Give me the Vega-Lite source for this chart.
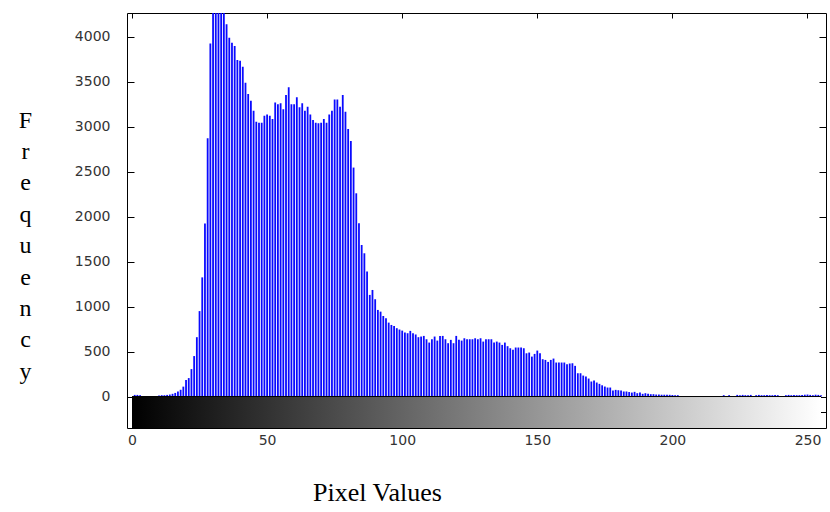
{
  "$schema": "https://vega.github.io/schema/vega-lite/v6.json",
  "width": 699,
  "height": 415,
  "autosize": {"type": "none"},
  "padding": {"left": 127, "top": 13, "right": 4, "bottom": 84},
  "background": "white",
  "config": {
    "view": {"stroke": "black", "strokeWidth": 1},
    "axis": {"domain": false, "grid": false, "labelFont": "DejaVu Sans", "labelFontSize": 14, "labelColor": "#333", "tickColor": "black", "tickWidth": 1, "format": "d"}
  },
  "datasets": {
    "hist": [
      {"v":0,"c":0},{"v":1,"c":18},{"v":2,"c":18},{"v":3,"c":15},{"v":4,"c":0},{"v":5,"c":0},{"v":6,"c":0},{"v":7,"c":0},{"v":8,"c":0},{"v":9,"c":0},
      {"v":10,"c":12},{"v":11,"c":15},{"v":12,"c":15},{"v":13,"c":18},{"v":14,"c":22},{"v":15,"c":30},{"v":16,"c":40},{"v":17,"c":55},{"v":18,"c":75},{"v":19,"c":110},
      {"v":20,"c":185},{"v":21,"c":205},{"v":22,"c":305},{"v":23,"c":450},{"v":24,"c":660},{"v":25,"c":950},{"v":26,"c":1325},{"v":27,"c":1925},{"v":28,"c":2871},{"v":29,"c":3926},
      {"v":30,"c":4600},{"v":31,"c":4900},{"v":32,"c":5000},{"v":33,"c":4800},{"v":34,"c":4400},{"v":35,"c":4141},{"v":36,"c":3989},{"v":37,"c":3934},{"v":38,"c":3897},{"v":39,"c":3741},
      {"v":40,"c":3734},{"v":41,"c":3667},{"v":42,"c":3490},{"v":43,"c":3364},{"v":44,"c":3290},{"v":45,"c":3179},{"v":46,"c":3056},{"v":47,"c":3045},{"v":48,"c":3045},{"v":49,"c":3123},
      {"v":50,"c":3137},{"v":51,"c":3123},{"v":52,"c":3086},{"v":53,"c":3271},{"v":54,"c":3249},{"v":55,"c":3260},{"v":56,"c":3194},{"v":57,"c":3353},{"v":58,"c":3438},{"v":59,"c":3249},
      {"v":60,"c":3249},{"v":61,"c":3327},{"v":62,"c":3216},{"v":63,"c":3260},{"v":64,"c":3179},{"v":65,"c":3223},{"v":66,"c":3137},{"v":67,"c":3075},{"v":68,"c":3045},{"v":69,"c":3038},
      {"v":70,"c":3045},{"v":71,"c":3086},{"v":72,"c":3045},{"v":73,"c":3137},{"v":74,"c":3179},{"v":75,"c":3304},{"v":76,"c":3304},{"v":77,"c":3223},{"v":78,"c":3353},{"v":79,"c":3168},
      {"v":80,"c":2975},{"v":81,"c":2842},{"v":82,"c":2546},{"v":83,"c":2260},{"v":84,"c":1926},{"v":85,"c":1685},{"v":86,"c":1593},{"v":87,"c":1389},{"v":88,"c":1130},{"v":89,"c":1185},
      {"v":90,"c":1082},{"v":91,"c":963},{"v":92,"c":944},{"v":93,"c":896},{"v":94,"c":871},{"v":95,"c":822},{"v":96,"c":796},{"v":97,"c":785},{"v":98,"c":760},{"v":99,"c":745},
      {"v":100,"c":733},{"v":101,"c":712},{"v":102,"c":704},{"v":103,"c":730},{"v":104,"c":704},{"v":105,"c":690},{"v":106,"c":660},{"v":107,"c":667},{"v":108,"c":674},{"v":109,"c":637},
      {"v":110,"c":600},{"v":111,"c":637},{"v":112,"c":667},{"v":113,"c":622},{"v":114,"c":674},{"v":115,"c":674},{"v":116,"c":637},{"v":117,"c":593},{"v":118,"c":630},{"v":119,"c":593},
      {"v":120,"c":674},{"v":121,"c":630},{"v":122,"c":622},{"v":123,"c":648},{"v":124,"c":637},{"v":125,"c":637},{"v":126,"c":637},{"v":127,"c":648},{"v":128,"c":637},{"v":129,"c":648},
      {"v":130,"c":611},{"v":131,"c":637},{"v":132,"c":637},{"v":133,"c":637},{"v":134,"c":600},{"v":135,"c":611},{"v":136,"c":600},{"v":137,"c":574},{"v":138,"c":600},{"v":139,"c":560},
      {"v":140,"c":537},{"v":141,"c":519},{"v":142,"c":545},{"v":143,"c":545},{"v":144,"c":545},{"v":145,"c":537},{"v":146,"c":481},{"v":147,"c":489},{"v":148,"c":444},{"v":149,"c":474},
      {"v":150,"c":511},{"v":151,"c":481},{"v":152,"c":415},{"v":153,"c":407},{"v":154,"c":385},{"v":155,"c":407},{"v":156,"c":422},{"v":157,"c":378},{"v":158,"c":378},{"v":159,"c":378},
      {"v":160,"c":378},{"v":161,"c":360},{"v":162,"c":367},{"v":163,"c":370},{"v":164,"c":341},{"v":165,"c":259},{"v":166,"c":259},{"v":167,"c":233},{"v":168,"c":222},{"v":169,"c":200},
      {"v":170,"c":167},{"v":171,"c":178},{"v":172,"c":156},{"v":173,"c":141},{"v":174,"c":125},{"v":175,"c":111},{"v":176,"c":100},{"v":177,"c":100},{"v":178,"c":67},{"v":179,"c":74},
      {"v":180,"c":70},{"v":181,"c":67},{"v":182,"c":56},{"v":183,"c":56},{"v":184,"c":50},{"v":185,"c":44},{"v":186,"c":52},{"v":187,"c":37},{"v":188,"c":44},{"v":189,"c":30},
      {"v":190,"c":37},{"v":191,"c":30},{"v":192,"c":26},{"v":193,"c":26},{"v":194,"c":22},{"v":195,"c":22},{"v":196,"c":20},{"v":197,"c":20},{"v":198,"c":20},{"v":199,"c":19},
      {"v":200,"c":17},{"v":201,"c":15},{"v":202,"c":15},{"v":203,"c":0},{"v":204,"c":0},{"v":205,"c":0},{"v":206,"c":0},{"v":207,"c":0},{"v":208,"c":0},{"v":209,"c":0},
      {"v":210,"c":0},{"v":211,"c":0},{"v":212,"c":0},{"v":213,"c":0},{"v":214,"c":0},{"v":215,"c":0},{"v":216,"c":0},{"v":217,"c":0},{"v":218,"c":0},{"v":219,"c":15},
      {"v":220,"c":0},{"v":221,"c":15},{"v":222,"c":0},{"v":223,"c":0},{"v":224,"c":18},{"v":225,"c":15},{"v":226,"c":18},{"v":227,"c":15},{"v":228,"c":15},{"v":229,"c":18},
      {"v":230,"c":0},{"v":231,"c":15},{"v":232,"c":18},{"v":233,"c":15},{"v":234,"c":15},{"v":235,"c":18},{"v":236,"c":15},{"v":237,"c":15},{"v":238,"c":18},{"v":239,"c":15},
      {"v":240,"c":0},{"v":241,"c":0},{"v":242,"c":15},{"v":243,"c":18},{"v":244,"c":15},{"v":245,"c":18},{"v":246,"c":15},{"v":247,"c":15},{"v":248,"c":18},{"v":249,"c":20},
      {"v":250,"c":22},{"v":251,"c":18},{"v":252,"c":15},{"v":253,"c":20},{"v":254,"c":18},{"v":255,"c":15}
    ]
  },
  "resolve": {"axis": {"x": "independent", "y": "independent"}},
  "layer": [
    {
      "data": {"values": [{"lo": 0, "hi": 255, "b": -350, "t": 0}]},
      "mark": {"type": "rect", "clip": true, "color": {"gradient": "linear", "x1": 0, "y1": 0, "x2": 1, "y2": 0, "stops": [{"offset": 0, "color": "#000000"}, {"offset": 1, "color": "#ffffff"}]}},
      "encoding": {
        "x": {"field": "lo", "type": "quantitative", "scale": {"domain": [0, 255], "nice": false, "zero": false},
              "axis": {"orient": "top", "values": [0, 50, 100, 150, 200, 250], "tickSize": -5, "labels": false, "title": null}},
        "x2": {"field": "hi"},
        "y": {"field": "b", "type": "quantitative", "scale": {"domain": [-350, 4265], "nice": false, "zero": false},
              "axis": {"orient": "right", "values": [-175, 0, 500, 1000, 1500, 2000, 2500, 3000, 3500, 4000], "tickSize": -7, "labels": false, "title": null}},
        "y2": {"field": "t"}
      }
    },
    {
      "data": {"name": "hist"},
      "mark": {"type": "bar", "clip": true, "size": 1.8, "color": "#0a0aff"},
      "encoding": {
        "x": {"field": "v", "type": "quantitative", "scale": {"domain": [0, 255], "nice": false, "zero": false},
              "axis": {"orient": "bottom", "values": [0, 50, 100, 150, 200, 250], "tickSize": -5, "labelPadding": 10,
                       "title": "Pixel Values", "titleFont": "Liberation Serif", "titleFontSize": 26, "titleFontWeight": "normal", "titleColor": "black",
                       "titleX": 250, "titleY": 72, "titleAlign": "center", "titleBaseline": "alphabetic", "titleAngle": 0}},
        "y": {"field": "c", "type": "quantitative", "scale": {"domain": [-350, 4265], "nice": false, "zero": false},
              "axis": {"orient": "left", "values": [0, 500, 1000, 1500, 2000, 2500, 3000, 3500, 4000], "tickSize": -7, "labelPadding": 24,
                       "title": ["F", "r", "e", "q", "u", "e", "n", "c", "y"], "titleFont": "Liberation Serif", "titleFontSize": 24, "titleFontWeight": "normal", "titleColor": "black",
                       "titleAngle": 0, "titleX": -102, "titleY": 114, "titleAlign": "center", "titleBaseline": "alphabetic", "titleLineHeight": 31.4}}
      }
    },
    {
      "data": {"values": [{"lo": 0, "hi": 255, "z": 0}]},
      "mark": {"type": "rule", "color": "black", "strokeWidth": 1},
      "encoding": {
        "x": {"field": "lo", "type": "quantitative", "scale": {"domain": [0, 255], "nice": false, "zero": false},
              "axis": {"orient": "bottom", "offset": -31.5, "values": [0, 50, 100, 150, 200, 250], "tickSize": 5, "labels": false, "title": null}},
        "x2": {"field": "hi"},
        "y": {"field": "z", "type": "quantitative", "scale": {"domain": [-350, 4265], "nice": false, "zero": false}, "axis": null}
      }
    }
  ]
}
